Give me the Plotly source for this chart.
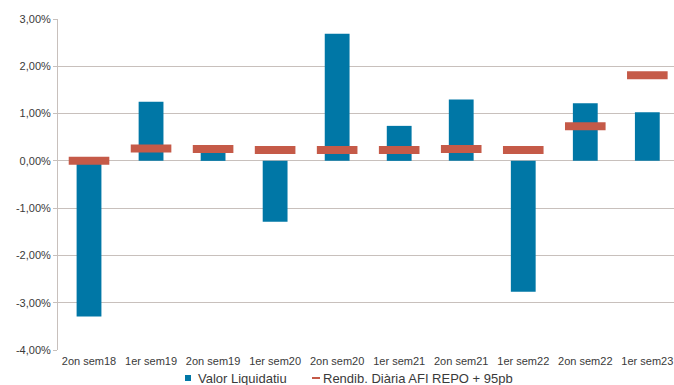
import plotly.graph_objects as go

# Half-year periods
periods = ["2on sem18", "1er sem19", "2on sem19", "1er sem20", "2on sem20",
           "1er sem21", "2on sem21", "1er sem22", "2on sem22", "1er sem23"]

# Net asset value return per period (%)
valor_liquidatiu = [-3.29, 1.25, 0.18, -1.29, 2.69, 0.74, 1.30, -2.77, 1.22, 1.03]

# Benchmark: daily AFI REPO return + 95 bp (%)
rendib_repo = [0.00, 0.26, 0.25, 0.23, 0.23, 0.23, 0.25, 0.23, 0.73, 1.81]

y_ticks = [-4, -3, -2, -1, 0, 1, 2, 3]

BLUE = "#0077A6"
RED = "#C55A48"
GRID = "#C8C0BC"
TEXT = "#3A3A3A"

# Plot area in pixels (used to place the legend keys below it)
W, H = 674, 385
L, T, B = 58, 19, 35
PW, PH = W - L, H - T - B


def px_x(x):
    return (x - L) / PW


def px_y(y):
    return (H - B - y) / PH


fig = go.Figure()

fig.add_trace(go.Bar(
    x=periods,
    y=valor_liquidatiu,
    name="Valor Liquidatiu",
    marker=dict(color=BLUE, line=dict(width=0)),
    width=0.40,
))

fig.add_trace(go.Scatter(
    x=periods,
    y=rendib_repo,
    name="Rendib. Diària AFI REPO + 95pb",
    mode="markers",
    marker=dict(symbol="line-ew", size=29, color=RED,
                line=dict(color=RED, width=8)),
))

# Legend drawn below the axis: small key mark + label
legend_y = 378
fig.add_shape(type="rect", xref="paper", yref="paper",
              x0=px_x(185), x1=px_x(191), y0=px_y(legend_y + 3), y1=px_y(legend_y - 3),
              fillcolor=BLUE, line=dict(width=0))
fig.add_shape(type="line", xref="paper", yref="paper",
              x0=px_x(312), x1=px_x(320), y0=px_y(legend_y), y1=px_y(legend_y),
              line=dict(color=RED, width=2))
fig.add_annotation(text="Valor Liquidatiu", xref="paper", yref="paper",
                   x=px_x(196), y=px_y(legend_y), xanchor="left", yanchor="middle",
                   showarrow=False, font=dict(size=13, color=TEXT))
fig.add_annotation(text="Rendib. Diària AFI REPO + 95pb", xref="paper", yref="paper",
                   x=px_x(321), y=px_y(legend_y), xanchor="left", yanchor="middle",
                   showarrow=False, font=dict(size=13, color=TEXT))

fig.update_layout(
    width=W,
    height=H,
    margin=dict(l=L, r=0, t=T, b=B, autoexpand=False),
    paper_bgcolor="white",
    plot_bgcolor="white",
    font=dict(family="Liberation Sans, Arial, sans-serif", size=11, color=TEXT),
    showlegend=False,
    xaxis=dict(
        type="category",
        range=[-0.5, 9.43],
        showgrid=False,
        showline=False,
        ticks="",
        ticklabelstandoff=3,
        tickfont=dict(size=11, color=TEXT),
        fixedrange=True,
    ),
    yaxis=dict(
        range=[-4, 3],
        tickvals=y_ticks,
        ticktext=[f"{v:.2f}".replace(".", ",") + "%" for v in y_ticks],
        showgrid=True,
        gridcolor=GRID,
        gridwidth=1,
        zeroline=True,
        zerolinecolor=GRID,
        zerolinewidth=1,
        showline=True,
        linecolor=GRID,
        linewidth=1,
        ticks="outside",
        ticklen=4,
        tickcolor=GRID,
        tickfont=dict(size=11, color=TEXT),
        fixedrange=True,
    ),
)

fig.write_html("out.html")
